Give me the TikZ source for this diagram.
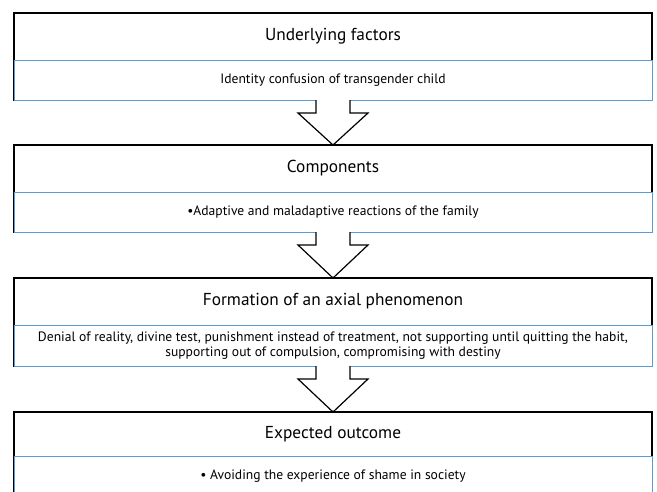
\documentclass[tikz,border=0pt]{standalone}
\usepackage{fontspec}
\setmainfont{PT Sans}
\usetikzlibrary{calc}
\definecolor{boxblue}{RGB}{91,155,213}
\begin{document}
\begin{tikzpicture}[x=1pt,y=-1pt,
  outerbox/.style={draw=black, line width=1.5pt, fill=white, minimum width=638pt, inner sep=0pt, outer sep=0pt, anchor=north},
  innerbox/.style={draw=boxblue, line width=1pt, fill=white, minimum width=638pt, inner sep=0pt, outer sep=0pt, anchor=north, align=center, font=\fontsize{13.6}{15}\selectfont},
  bodytext/.style={font=\fontsize{13.6}{15}\selectfont, inner sep=0pt},
  titletext/.style={font=\fontsize{17.3}{20}\selectfont, inner sep=0pt},
  blockarrow/.style={draw=black, line width=1.2pt, fill=white, line join=miter}
]
\clip (0,0) rectangle (657,491);
\fill[white] (0,0) rectangle (657,491);

% Box 1
\node[outerbox, minimum height=87pt] (o1) at (333,13) {};
\node[titletext] (t1) at (333,36.5) {Underlying factors};
\node[innerbox, minimum height=40pt] (d1) at (333,60) {Identity confusion of transgender child};

% Box 2
\node[outerbox, minimum height=87pt] (o2) at (333,145) {};
\node[titletext] (t2) at (333,168.5) {Components};
\node[innerbox, minimum height=40pt] (d2) at (333,192) {•Adaptive and maladaptive reactions of the family};

% Box 3
\node[outerbox, minimum height=88pt] (o3) at (333,278) {};
\node[titletext] (t3) at (333,301.5) {Formation of an axial phenomenon};
\node[innerbox, minimum height=41pt] (d3) at (333,325) {Denial of reality, divine test, punishment instead of treatment, not supporting until quitting the habit,\\supporting out of compulsion, compromising with destiny};

% Box 4
\node[outerbox, minimum height=100pt] (o4) at (333,412) {};
\node[titletext] (t4) at (333,434) {Expected outcome};
\node[innerbox, minimum height=60pt] (d4) at (333,456) {};
\node[bodytext] (b4) at (333,476) {• Avoiding the experience of shame in society};

% Block arrows
\draw[blockarrow] ($(d1.south)+(-17,0)$) -- ($(d1.south)+(-17,13)$) -- ($(d1.south)+(-35,13)$) -- (o2.north) -- ($(d1.south)+(35,13)$) -- ($(d1.south)+(17,13)$) -- ($(d1.south)+(17,0)$);
\draw[blockarrow] ($(d2.south)+(-17,0)$) -- ($(d2.south)+(-17,13)$) -- ($(d2.south)+(-35,13)$) -- (o3.north) -- ($(d2.south)+(35,13)$) -- ($(d2.south)+(17,13)$) -- ($(d2.south)+(17,0)$);
\draw[blockarrow] ($(d3.south)+(-17,0)$) -- ($(d3.south)+(-17,13)$) -- ($(d3.south)+(-35,13)$) -- (o4.north) -- ($(d3.south)+(35,13)$) -- ($(d3.south)+(17,13)$) -- ($(d3.south)+(17,0)$);
\end{tikzpicture}
\end{document}
